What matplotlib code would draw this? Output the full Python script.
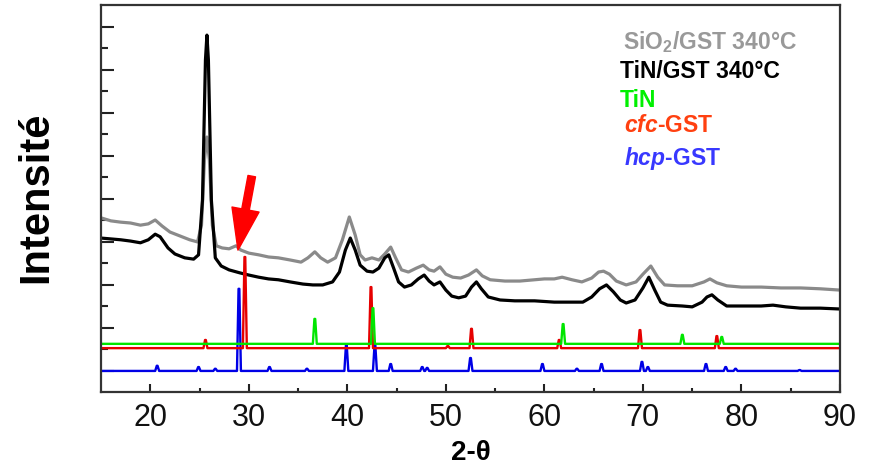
import matplotlib
matplotlib.use("Agg")
import matplotlib.pyplot as plt
from matplotlib.ticker import FixedLocator
import numpy as np

plt.rcParams['font.family'] = ['Liberation Sans', 'DejaVu Sans']
plt.rcParams['mathtext.fontset'] = 'custom'
plt.rcParams['mathtext.rm'] = 'Liberation Sans:bold'
plt.rcParams['mathtext.bf'] = 'Liberation Sans:bold'
plt.rcParams['mathtext.it'] = 'Liberation Sans:italic:bold'
plt.rcParams['mathtext.bfit'] = 'Liberation Sans:italic:bold'

# ---- measured patterns (2-theta, intensity a.u.) ----
tt_black = [15.0, 16.0, 17.0, 18.0, 19.0, 19.8, 20.5, 21.0, 21.8, 22.5, 23.5, 24.4, 24.9,
            25.3, 25.6, 25.75, 25.9, 26.2, 26.6, 27.2, 28.0, 29.1, 30.0, 31.0, 32.0, 33.0,
            34.2, 35.5, 36.5, 37.5, 38.5, 39.2, 39.8, 40.3, 40.8, 41.3, 42.0, 42.6, 43.2,
            43.8, 44.2, 44.7, 45.2, 45.8, 46.5, 47.2, 47.8, 48.3, 48.8, 49.4, 50.0, 50.6,
            51.3, 52.0, 52.6, 53.1, 53.6, 54.3, 55.5, 57.0, 59.0, 61.0, 62.5, 63.9, 64.8,
            65.6, 66.3, 67.0, 67.7, 68.3, 69.2, 70.0, 70.6, 71.2, 71.8, 72.5, 74.0, 75.0,
            76.0, 76.5, 77.0, 77.6, 78.5, 80.0, 82.0, 83.2, 84.5, 86.0, 88.0, 90.0]
int_black = [358, 356, 354, 351, 347, 354, 367, 361, 335, 321, 312, 309, 319,
             447, 772, 830, 772, 447, 312, 293, 284, 277, 272, 267, 263, 261,
             256, 251, 249, 249, 256, 279, 330, 358, 330, 295, 281, 279, 288,
             312, 319, 288, 256, 244, 249, 263, 272, 258, 249, 256, 237, 223,
             219, 223, 244, 256, 240, 221, 214, 212, 212, 209, 209, 209, 221,
             240, 249, 233, 214, 207, 214, 242, 267, 237, 209, 202, 200, 198,
             209, 221, 226, 214, 200, 200, 200, 202, 198, 195, 195, 193]

tt_gray = [15.0, 16.0, 17.0, 18.0, 19.0, 19.8, 20.5, 21.2, 22.0, 23.0, 24.0, 24.8, 25.2,
           25.5, 25.75, 26.0, 26.3, 26.7, 27.3, 28.0, 28.7, 29.2, 30.0, 31.0, 32.0, 33.0,
           34.2, 35.3, 36.0, 36.7, 37.3, 38.0, 38.8, 39.5, 40.2, 40.8, 41.3, 41.8, 42.5,
           43.2, 43.8, 44.4, 44.9, 45.5, 46.2, 47.0, 47.7, 48.3, 48.8, 49.4, 50.0, 50.7,
           51.5, 52.3, 53.1, 53.7, 54.5, 56.0, 57.5, 59.0, 60.0, 61.0, 61.8, 62.8, 63.8,
           64.8, 65.5, 66.0, 66.6, 67.3, 68.3, 69.3, 70.0, 70.8, 71.5, 72.2, 73.5, 75.0,
           76.2, 76.8, 77.5, 78.5, 80.0, 82.0, 84.0, 86.0, 88.0, 90.0]
int_gray = [405, 398, 395, 393, 388, 391, 400, 386, 372, 363, 354, 349, 388,
            540, 593, 540, 388, 340, 335, 333, 340, 330, 323, 319, 314, 312,
            307, 302, 312, 326, 312, 302, 312, 354, 407, 365, 319, 307, 312,
            307, 321, 337, 312, 284, 279, 288, 295, 284, 281, 291, 274, 267,
            265, 272, 284, 270, 261, 258, 258, 261, 263, 263, 267, 261, 256,
            265, 279, 281, 274, 258, 249, 256, 274, 293, 267, 249, 247, 247,
            256, 263, 254, 247, 244, 244, 242, 242, 240, 237]

# ---- reference stick patterns ----
tin_base = 112
tin_pos = [36.7, 42.6, 61.9, 74.0, 78.0]
tin_int = [170, 195, 158, 133, 128]

cfc_base = 102
cfc_pos = [25.6, 29.6, 42.4, 50.2, 52.6, 61.5, 69.7, 77.5]
cfc_int = [121, 314, 244, 107, 147, 121, 144, 130]

hcp_base = 49
hcp_pos = [20.7, 24.9, 26.6, 29.0, 32.1, 35.9, 39.9, 42.8, 44.4, 47.6, 48.1, 52.5,
           59.8, 63.3, 65.8, 69.9, 70.5, 76.4, 78.4, 79.4, 85.9]
hcp_int = [61, 58, 54, 240, 58, 54, 109, 109, 65, 58, 56, 79,
           65, 54, 65, 70, 58, 65, 58, 54, 51]


def sticks(pos, tops, base, lo=15.0, hi=90.0, hw=0.2, tw=0.04):
    xs, ys = [lo], [base]
    for p, t in sorted(zip(pos, tops)):
        xs += [p - hw, p - tw, p + tw, p + hw]
        ys += [base, t, t, base]
    xs.append(hi)
    ys.append(base)
    return xs, ys


fig = plt.figure(figsize=(8.79, 4.67), dpi=100)
ax = fig.add_axes([101 / 879, 1 - 392 / 467, 739 / 879, 387 / 467])

ax.plot(tt_gray, int_gray, color='#8a8a8a', lw=2.3, solid_joinstyle='round')
ax.plot(tt_black, int_black, color='#000000', lw=2.3, solid_joinstyle='round')

x, y = sticks(hcp_pos, hcp_int, hcp_base)
ax.plot(x, y, color='#0000e6', lw=1.7)
x, y = sticks(cfc_pos, cfc_int, cfc_base)
ax.plot(x, y, color='#e60000', lw=1.7)
x, y = sticks(tin_pos, tin_int, tin_base)
ax.plot(x, y, color='#00e600', lw=1.7)

ax.annotate('', xy=(28.9, 330), xytext=(30.3, 502),
            arrowprops=dict(arrowstyle='simple,head_width=0.9,head_length=1.35,tail_width=0.25',
                            color='#ff0000', mutation_scale=22, shrinkA=0, shrinkB=0))

ax.set_xlim(15, 90)
ax.set_ylim(0, 900)

ax.xaxis.set_major_locator(FixedLocator([20, 30, 40, 50, 60, 70, 80, 90]))
ax.xaxis.set_minor_locator(FixedLocator([25, 35, 45, 55, 65, 75, 85]))
ax.yaxis.set_major_locator(FixedLocator([50, 150, 250, 350, 450, 550, 650, 750, 850]))
ax.yaxis.set_minor_locator(FixedLocator([100, 200, 300, 400, 500, 600, 700, 800]))
ax.set_yticklabels([])

ax.tick_params(axis='x', which='major', direction='in', length=6, width=1.5,
               color='#222222', labelsize=22, pad=8)
ax.tick_params(axis='x', which='minor', direction='in', length=3, width=1.5, color='#222222')
ax.tick_params(axis='y', which='major', direction='in', length=9, width=1.5, color='#222222')
ax.tick_params(axis='y', which='minor', direction='in', length=5, width=1.5, color='#222222')
for lab in ax.get_xticklabels():
    lab.set_color('#111111')

for s in ax.spines.values():
    s.set_linewidth(1.6)
    s.set_color('#333333')

ax.set_xlabel('2-θ', fontsize=20, fontweight='bold', labelpad=5)
fig.text(36 / 879, 1 - 197 / 467, 'Intensité', rotation=90, fontsize=30,
         fontweight='bold', ha='center', va='center')

lx = 620 / 879
fs = 16.5
fig.text(623 / 879, 1 - 42 / 467, r'SiO$_\mathregular{2}$/GST 340°C', color='#999999',
         fontsize=fs, fontweight='bold', va='center')
fig.text(lx, 1 - 72 / 467, 'TiN/GST 340°C', color='#000000', fontsize=fs,
         fontweight='bold', va='center')
fig.text(lx, 1 - 100 / 467, 'TiN', color='#00f000', fontsize=fs,
         fontweight='bold', va='center')
fig.text(624 / 879, 1 - 125 / 467, r'$\mathbfit{cfc}$-GST', color='#ff4010', fontsize=fs,
         fontweight='bold', va='center')
fig.text(624 / 879, 1 - 158 / 467, r'$\mathbfit{hcp}$-GST', color='#3838ff', fontsize=fs,
         fontweight='bold', va='center')

fig.savefig('out.png', dpi=100)
